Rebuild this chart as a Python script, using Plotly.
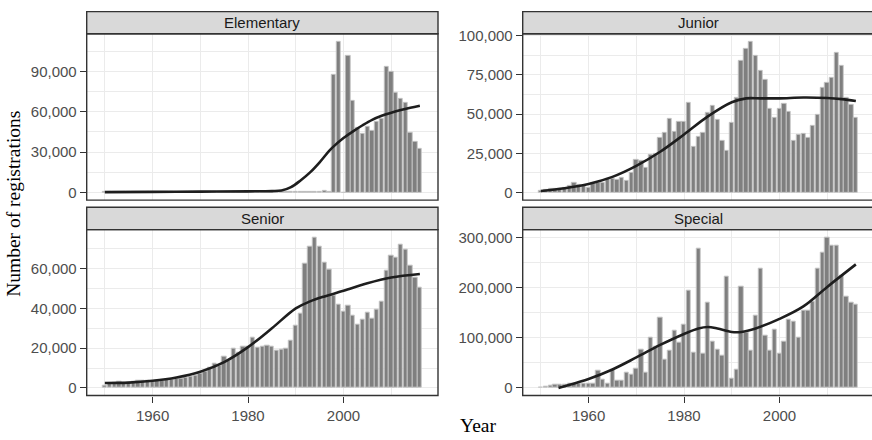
import plotly.graph_objects as go

# ---------------- data ----------------
years = list(range(1950, 2017))

elementary = [
    300, 250, 300, 350, 300, 300, 350, 300, 400, 350,
    350, 400, 400, 350, 400, 450, 400, 450, 400, 450,
    450, 500, 450, 500, 500, 550, 500, 550, 600, 550,
    600, 650, 600, 700, 650, 700, 750, 700, 800, 750,
    800, 850, 800, 900, 850, 900, 950, 900,
    87500, 112300, 0, 101500, 68000, 48000, 44000, 48800, 46000, 52500,
    55000, 93300, 89500, 74000, 70000, 66500, 44300, 37700, 32800,
]
junior = [
    1000, 1500, 2100, 2500, 2500, 3100, 4000, 6000, 5000, 4600,
    3100, 6000, 6200, 6300, 8700, 8700, 8300, 9400, 7700, 12500,
    20600, 20200, 15600, 24000, 24800, 34800, 37900, 46900, 38500, 44800,
    45200, 57300, 29400, 35200, 37900, 51000, 55200, 46600, 33000, 26900,
    44200, 60200, 84200, 91500, 96300, 86900, 77500, 71700, 53600, 47300,
    53100, 56700, 51400, 32700, 36900, 37300, 34800, 42700, 49800, 66500,
    70200, 73300, 88900, 80600, 60600, 55800, 47300,
]
senior = [
    1000, 2100, 2500, 3300, 2600, 2600, 3000, 3800, 3800, 3500,
    3300, 3800, 3800, 4100, 4100, 4600, 4600, 5100, 5800, 6200,
    7000, 8400, 10300, 12500, 11200, 15600, 14000, 19700, 17800, 20600,
    21000, 25500, 20200, 20600, 21500, 21000, 18800, 19400, 19900, 23800,
    31400, 37400, 62600, 70900, 75800, 71200, 62900, 59300, 46200, 41900,
    38300, 41600, 36200, 31700, 34200, 38000, 35000, 39600, 43200, 58900,
    66600, 65500, 72000, 69500, 61600, 55600, 50600,
]
special = [
    500, 2000, 4000, 6000, 6500, 7000, 8000, 8000, 9500, 8000,
    8000, 9500, 34000, 16000, 9500, 36000, 14000, 15000, 31000, 26700,
    37800, 77000, 31000, 100500, 82000, 140000, 57500, 75000, 114000, 90000,
    126000, 195000, 70000, 279000, 68000, 171000, 92000, 77000, 64000, 223000,
    18000, 37500, 202000, 110000, 74000, 145500, 238500, 105000, 74000, 117000,
    69500, 92000, 137500, 133000, 101000, 155000, 155000, 172000, 238500, 271000,
    301500, 285000, 284000, 225000, 183000, 171000, 167000,
]

# smoothed trend lines
elem_sx = [1950, 1960, 1970, 1980, 1985, 1987, 1989, 1991, 1993, 1995, 1997, 1998,
           2000, 2002, 2004, 2006, 2008, 2010, 2012, 2014, 2016]
elem_sy = [300, 500, 700, 900, 1100, 1500, 4000, 9000, 15000, 22500, 31000, 34500,
           40500, 45500, 50000, 54000, 57000, 59300, 61300, 63000, 64500]
junior_sx = [1950, 1955, 1960, 1965, 1970, 1975, 1980, 1985, 1990, 1993, 1996,
             2000, 2005, 2010, 2013, 2016]
junior_sy = [1000, 2800, 5500, 10000, 17000, 26000, 37000, 48500, 57500, 60000, 60000,
             60000, 60500, 60200, 59500, 58300]
senior_sx = [1950, 1955, 1960, 1965, 1970, 1975, 1980, 1985, 1990, 1993, 1996,
             2000, 2005, 2010, 2016]
senior_sy = [2500, 2700, 3600, 5300, 8200, 13000, 20500, 30000, 40000, 43500, 46000,
             48800, 52600, 55500, 57300]
special_sx = [1953.7, 1955, 1960, 1965, 1970, 1975, 1980, 1983, 1985, 1987, 1990,
              1992, 1995, 2000, 2005, 2010, 2016]
special_sy = [0, 3500, 18000, 37000, 61000, 86000, 108000, 119000, 122000, 119000,
              112000, 112000, 119000, 138000, 163000, 202000, 247000]

panel_titles = ["Elementary", "Junior", "Senior", "Special"]
y_ticks = [30000, 25000, 20000, 100000]
y_ranges = [[-5615, 117915], [-4815, 101115], [-3790, 79590], [-15075, 316575]]

# ---------------- layout helpers ----------------
W, H = 872, 440


def px(p):
    return p / W


def py(p):
    return 1 - p / H


left_x = (86.7, 438.0)
right_x = (522.7, 874.0)
top_y = (27.3, 196.7)
bot_y = (226.7, 395.7)
top_strip = (4.7, 27.3)
bot_strip = (204.0, 226.7)

panels = [
    (elementary, elem_sx, elem_sy, left_x, top_y, top_strip, False),
    (junior, junior_sx, junior_sy, right_x, top_y, top_strip, False),
    (senior, senior_sx, senior_sy, left_x, bot_y, bot_strip, True),
    (special, special_sx, special_sy, right_x, bot_y, bot_strip, True),
]

tick_font = dict(family="Liberation Sans, Arial, sans-serif", size=15, color="#4D4D4D")
grid = "#EBEBEB"

fig = go.Figure()
shapes = []
annotations = []

for i, (vals, sx, sy, xr, yr, strip, bottom) in enumerate(panels):
    n = "" if i == 0 else str(i + 1)
    xa, ya = "x" + n, "y" + n
    fig.add_trace(go.Bar(
        x=years, y=vals, width=0.9, xaxis=xa, yaxis=ya,
        marker=dict(color="#7F7F7F", line=dict(color="#C6C6C6", width=0.9)),
        showlegend=False, hoverinfo="x+y",
    ))
    fig.add_trace(go.Scatter(
        x=sx, y=sy, mode="lines", xaxis=xa, yaxis=ya,
        line=dict(color="#1E1E1E", width=2.6, shape="spline", smoothing=1.0),
        showlegend=False,
    ))

    x_end = min(xr[1], W)
    x_range_end = 1946.2 + (x_end - xr[0]) / (438.0 - 86.7) * (2019.8 - 1946.2)
    fig.layout["xaxis" + n] = dict(
        domain=[px(xr[0]), px(x_end)], range=[1946.2, x_range_end],
        anchor=ya, tick0=1960, dtick=20,
        showgrid=True, gridcolor=grid, gridwidth=1.1,
        minor=dict(tick0=1950, dtick=10, showgrid=True, gridcolor=grid, gridwidth=0.6),
        zeroline=False, showline=False,
        showticklabels=bottom, ticks="outside" if bottom else "",
        ticklen=6, tickwidth=1.2, tickcolor="#333333", tickfont=tick_font,
    )
    fig.layout["yaxis" + n] = dict(
        domain=[py(yr[1]), py(yr[0])], range=y_ranges[i],
        anchor=xa, tick0=0, dtick=y_ticks[i], tickformat=",",
        showgrid=True, gridcolor=grid, gridwidth=1.1,
        minor=dict(tick0=0, dtick=y_ticks[i] / 2, showgrid=True, gridcolor=grid, gridwidth=0.6),
        zeroline=False, showline=False,
        ticks="outside", ticklen=6, tickwidth=1.2, tickcolor="#333333", tickfont=tick_font,
    )

    # panel border
    shapes.append(dict(type="rect", xref="paper", yref="paper",
                       x0=px(xr[0]), x1=px(xr[1]), y0=py(yr[1]), y1=py(yr[0]),
                       line=dict(color="#333333", width=1.4), fillcolor="rgba(0,0,0,0)",
                       layer="above"))
    # strip
    shapes.append(dict(type="rect", xref="paper", yref="paper",
                       x0=px(xr[0]), x1=px(xr[1]), y0=py(strip[1]), y1=py(strip[0]),
                       line=dict(color="#333333", width=1.4), fillcolor="#D9D9D9",
                       layer="above"))
    annotations.append(dict(
        text=panel_titles[i], xref="paper", yref="paper",
        x=px((xr[0] + xr[1]) / 2), y=py((strip[0] + strip[1]) / 2),
        xanchor="center", yanchor="middle", showarrow=False,
        font=dict(family="Liberation Sans, Arial, sans-serif", size=15, color="#1A1A1A"),
    ))

annotations.append(dict(
    text="Number of registrations", xref="paper", yref="paper",
    x=px(13.5), y=py(201), textangle=-90, showarrow=False,
    xanchor="center", yanchor="middle",
    font=dict(family="Liberation Serif, Times New Roman, serif", size=19.5, color="#000000"),
))
annotations.append(dict(
    text="Year", xref="paper", yref="paper",
    x=px(478), y=py(426), showarrow=False,
    xanchor="center", yanchor="middle",
    font=dict(family="Liberation Serif, Times New Roman, serif", size=19.5, color="#000000"),
))

fig.update_layout(
    width=W, height=H, margin=dict(l=0, r=0, t=0, b=0),
    paper_bgcolor="white", plot_bgcolor="white",
    shapes=shapes, annotations=annotations, bargap=0,
)

fig.write_html("out.html")
